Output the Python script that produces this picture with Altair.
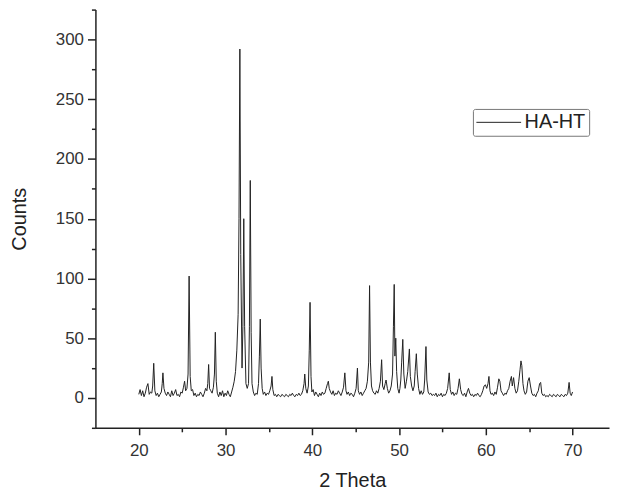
import altair as alt
import pandas as pd

two_theta = [
    20.00, 20.15, 20.30, 20.45, 20.60, 20.75, 20.90, 21.05, 21.20, 21.35, 21.50, 21.60, 21.72, 21.85,
    22.00, 22.15, 22.30, 22.45, 22.60, 22.70, 22.78, 22.90, 23.05, 23.20, 23.35, 23.50, 23.65, 23.80,
    23.95, 24.10, 24.25, 24.40, 24.55, 24.70, 24.85, 25.00, 25.15, 25.28, 25.40, 25.55, 25.68, 25.80,
    25.92, 26.05, 26.20, 26.35, 26.50, 26.65, 26.80, 26.95, 27.10, 27.25, 27.40, 27.55, 27.70, 27.85,
    27.95, 28.05, 28.15, 28.30, 28.45, 28.60, 28.72, 28.82, 28.93, 29.05, 29.20, 29.35, 29.50, 29.65,
    29.80, 29.95, 30.10, 30.25, 30.40, 30.55, 30.70, 30.85, 31.00, 31.15, 31.30, 31.45, 31.55, 31.65,
    31.75, 31.90, 32.00, 32.10, 32.20, 32.35, 32.50, 32.65, 32.75, 32.85, 32.95, 33.05, 33.20, 33.35,
    33.50, 33.65, 33.80, 33.90, 34.00, 34.10, 34.22, 34.35, 34.50, 34.65, 34.80, 34.95, 35.10, 35.25,
    35.35, 35.45, 35.60, 35.75, 35.90, 36.05, 36.20, 36.35, 36.50, 36.65, 36.80, 36.95, 37.10, 37.25,
    37.40, 37.55, 37.70, 37.85, 38.00, 38.15, 38.30, 38.45, 38.60, 38.75, 38.90, 39.05, 39.13, 39.25,
    39.40, 39.55, 39.65, 39.74, 39.85, 39.95, 40.10, 40.25, 40.40, 40.55, 40.70, 40.85, 41.00, 41.15,
    41.30, 41.45, 41.60, 41.75, 41.85, 41.95, 42.10, 42.25, 42.40, 42.55, 42.70, 42.85, 43.00, 43.15,
    43.30, 43.45, 43.60, 43.75, 43.88, 44.00, 44.15, 44.30, 44.45, 44.60, 44.75, 44.90, 45.05, 45.20,
    45.30, 45.45, 45.60, 45.75, 45.90, 46.05, 46.20, 46.35, 46.50, 46.60, 46.70, 46.82, 46.95, 47.10,
    47.25, 47.40, 47.55, 47.70, 47.85, 47.99, 48.10, 48.25, 48.40, 48.50, 48.65, 48.80, 48.95, 49.10,
    49.25, 49.35, 49.44, 49.52, 49.62, 49.72, 49.85, 50.00, 50.10, 50.20, 50.30, 50.43, 50.55, 50.70,
    50.85, 51.00, 51.19, 51.30, 51.45, 51.60, 51.75, 51.85, 51.99, 52.10, 52.25, 52.40, 52.55, 52.70,
    52.85, 52.95, 53.10, 53.20, 53.35, 53.50, 53.65, 53.80, 53.95, 54.10, 54.25, 54.40, 54.55, 54.70,
    54.85, 55.00, 55.15, 55.30, 55.45, 55.60, 55.78, 55.90, 56.05, 56.20, 56.35, 56.50, 56.65, 56.80,
    56.95, 57.10, 57.25, 57.40, 57.55, 57.70, 57.85, 58.00, 58.15, 58.30, 58.45, 58.60, 58.75, 58.90,
    59.05, 59.20, 59.35, 59.50, 59.65, 59.80, 59.95, 60.10, 60.25, 60.36, 60.48, 60.60, 60.75, 60.90,
    61.05, 61.20, 61.35, 61.50, 61.62, 61.75, 61.90, 62.05, 62.20, 62.35, 62.50, 62.65, 62.80, 62.95,
    63.05, 63.20, 63.35, 63.50, 63.65, 63.80, 63.95, 64.05, 64.15, 64.28, 64.40, 64.55, 64.70, 64.85,
    65.00, 65.15, 65.30, 65.45, 65.60, 65.75, 65.90, 66.05, 66.20, 66.32, 66.45, 66.60, 66.75, 66.90,
    67.05, 67.20, 67.35, 67.50, 67.65, 67.80, 67.95, 68.10, 68.25, 68.40, 68.55, 68.70, 68.85, 69.00,
    69.15, 69.30, 69.45, 69.60, 69.72, 69.85, 70.00,
]
counts = [
    3, 7, 2, 6, 1, 4, 9, 12, 3, 5, 4, 10, 29, 6,
    2, 4, 1, 3, 5, 12, 21, 8, 4, 2, 5, 3, 1, 6,
    2, 4, 7, 2, 3, 1, 5, 4, 9, 14, 6, 8, 20, 102,
    18, 6, 7, 2, 4, 1, 3, 2, 5, 3, 1, 4, 8, 6,
    12, 28, 8, 6, 4, 9, 20, 55, 14, 4, 1, 5, 2, 6,
    1, 4, 2, 6, 3, 1, 5, 9, 14, 22, 40, 70, 150, 292,
    120, 25, 60, 150, 60, 12, 8, 12, 60, 182, 55, 12, 5, 2,
    4, 3, 12, 35, 66, 25, 8, 3, 5, 2, 4, 3, 6, 10,
    18, 7, 2, 3, 1, 3, 2, 1, 3, 2, 1, 3, 2, 1,
    3, 2, 4, 2, 1, 3, 2, 4, 2, 3, 6, 12, 20, 8,
    4, 10, 40, 80, 18, 5, 7, 2, 5, 3, 1, 4, 2, 5,
    3, 4, 8, 12, 14, 8, 5, 3, 6, 2, 4, 3, 6, 4,
    2, 5, 9, 21, 6, 3, 5, 2, 4, 3, 1, 4, 8, 25,
    6, 3, 5, 2, 4, 6, 8, 14, 30, 94, 30, 10, 6, 4,
    3, 6, 4, 8, 14, 32, 10, 7, 12, 15, 8, 4, 6, 10,
    20, 60, 95, 35, 50, 22, 8, 4, 8, 15, 30, 49, 20, 8,
    14, 22, 41, 18, 10, 6, 10, 22, 37, 20, 8, 3, 6, 3,
    5, 15, 43, 15, 5, 3, 4, 2, 3, 2, 4, 1, 3, 2,
    4, 1, 3, 2, 4, 8, 21, 7, 3, 5, 2, 4, 3, 8,
    16, 7, 3, 2, 4, 1, 5, 8, 4, 2, 3, 1, 3, 2,
    4, 2, 1, 3, 6, 10, 11, 8, 12, 18, 6, 3, 4, 2,
    5, 3, 9, 16, 14, 6, 4, 2, 4, 3, 6, 8, 14, 18,
    10, 17, 8, 4, 6, 14, 24, 31, 27, 12, 6, 3, 5, 14,
    17, 10, 4, 2, 3, 1, 4, 6, 12, 13, 4, 2, 3, 1,
    2, 1, 3, 2, 1, 3, 2, 1, 3, 2, 1, 3, 2, 1,
    3, 2, 4, 13, 4, 2, 5,
]
series_name = "HA-HT"

# axis tick values: majors are labelled, minors are short unlabelled ticks
x_ticks = [20, 25, 30, 35, 40, 45, 50, 55, 60, 65, 70]
y_ticks = [-25, 0, 25, 50, 75, 100, 125, 150, 175, 200, 225, 250, 275, 300, 325]

df = pd.DataFrame({"t": two_theta, "c": counts, "s": series_name})

FONT = "Liberation Sans"
xs = alt.Scale(domain=[15, 74.2], nice=False, zero=False)
ys = alt.Scale(domain=[-25, 325], nice=False, zero=False)

common = dict(domainColor="#222", domainWidth=1.5, tickColor="#222", tickWidth=1.5,
              grid=False, labelFont=FONT, titleFont=FONT, offset=0, labelFontSize=17,
              labelColor="#333", titleFontSize=20, titleFontWeight="normal",
              titleColor="#222", labelBound=False, labelOverlap=False)

x_axis = alt.Axis(
    orient="bottom", values=x_ticks,
    tickSize={"condition": {"test": "datum.value % 10 === 0", "value": 7}, "value": 4},
    labelExpr="datum.value % 10 === 0 ? datum.label : ''",
    labelPadding=8, title="2 Theta", titlePadding=12, format="d", **common)

y_axis = alt.Axis(
    orient="left", values=y_ticks,
    tickSize={"condition": {"test": "datum.value % 50 === 0", "value": 8}, "value": 4},
    labelExpr="datum.value % 50 === 0 && datum.value >= 0 && datum.value <= 300 ? datum.label : ''",
    labelPadding=4, title="Counts", titlePadding=26, format="d", **common)

chart = alt.Chart(df).mark_line(strokeWidth=1, interpolate="linear").encode(
    x=alt.X("t:Q", scale=xs, axis=x_axis),
    y=alt.Y("c:Q", scale=ys, axis=y_axis),
    color=alt.Color("s:N", scale=alt.Scale(range=["#222"]), legend=alt.Legend(
        orient="none", legendX=380, legendY=100, title=None, symbolType="stroke",
        symbolSize=2025, symbolStrokeWidth=1, labelFontSize=20, labelFont=FONT,
        labelColor="#222", labelOffset=3, strokeColor="#777", padding=3, cornerRadius=2,
        clipHeight=21)),
).properties(
    width=517, height=421, background="white",
    autosize=alt.AutoSizeParams(type="none"),
    padding={"left": 88, "top": 0, "right": 2, "bottom": 62},
).configure_view(strokeOpacity=0, strokeWidth=0)

chart.save("out.html", embed_options={"renderer": "svg", "actions": False})
